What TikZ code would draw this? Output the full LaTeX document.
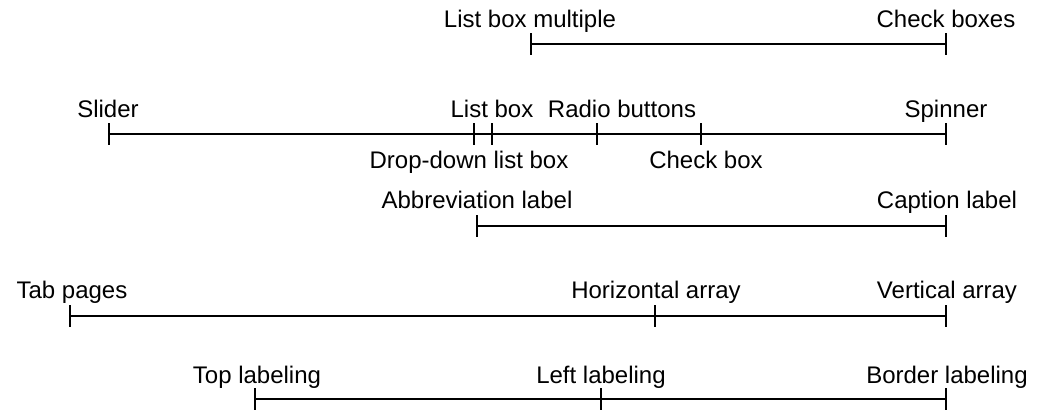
\documentclass[tikz,border=0pt]{standalone}
\usepackage{fontspec}
\setmainfont{Liberation Sans}
\begin{document}
\begin{tikzpicture}[x=1pt,y=-1pt,
  bar/.style={line width=2.8pt},
  tickmark/.style={line width=2.8pt},
  lbl/.style={anchor=base,inner sep=0pt,font=\fontsize{24}{28}\selectfont}]
\useasboundingbox (0,0) rectangle (1045,410);
% row 1
\coordinate (a1) at (531,44);
\coordinate (a2) at (946,44);
% row 2
\coordinate (b1) at (109,134);
\coordinate (b2) at (474,134);
\coordinate (b3) at (492,134);
\coordinate (b4) at (597,134);
\coordinate (b5) at (701,134);
\coordinate (b6) at (946,134);
% row 3
\coordinate (c1) at (477,226);
\coordinate (c2) at (946,226);
% row 4
\coordinate (d1) at (70,316);
\coordinate (d2) at (655,316);
\coordinate (d3) at (946,316);
% row 5
\coordinate (e1) at (255,399);
\coordinate (e2) at (601,399);
\coordinate (e3) at (946,399);
% bars
\draw[bar] (a1) -- (a2);
\draw[bar] (b1) -- (b6);
\draw[bar] (c1) -- (c2);
\draw[bar] (d1) -- (d3);
\draw[bar] (e1) -- (e3);
% ticks
\foreach \p in {a1,a2,b1,b2,b3,b4,b5,b6,c1,c2,d1,d2,d3,e1,e2,e3}
  \draw[tickmark] ([yshift=11pt]\p) -- ([yshift=-11pt]\p);
% labels
\node[lbl] (la1) at (530,27) {List box multiple};
\node[lbl] (la2) at (946,27) {Check boxes};
\node[lbl] (lb1) at (108,117) {Slider};
\node[lbl] (lb3) at (492,117) {List box};
\node[lbl] (lb4) at (622,117) {Radio buttons};
\node[lbl] (lb6) at (946,117) {Spinner};
\node[lbl] (lb2) at (469,168) {Drop-down list box};
\node[lbl] (lb5) at (706,168) {Check box};
\node[lbl] (lc1) at (477,208) {Abbreviation label};
\node[lbl] (lc2) at (947,208) {Caption label};
\node[lbl] (ld1) at (72,298) {Tab pages};
\node[lbl] (ld2) at (656,298) {Horizontal array};
\node[lbl] (ld3) at (947,298) {Vertical array};
\node[lbl] (le1) at (257,383) {Top labeling};
\node[lbl] (le2) at (601,383) {Left labeling};
\node[lbl] (le3) at (947,383) {Border labeling};
\end{tikzpicture}
\end{document}
